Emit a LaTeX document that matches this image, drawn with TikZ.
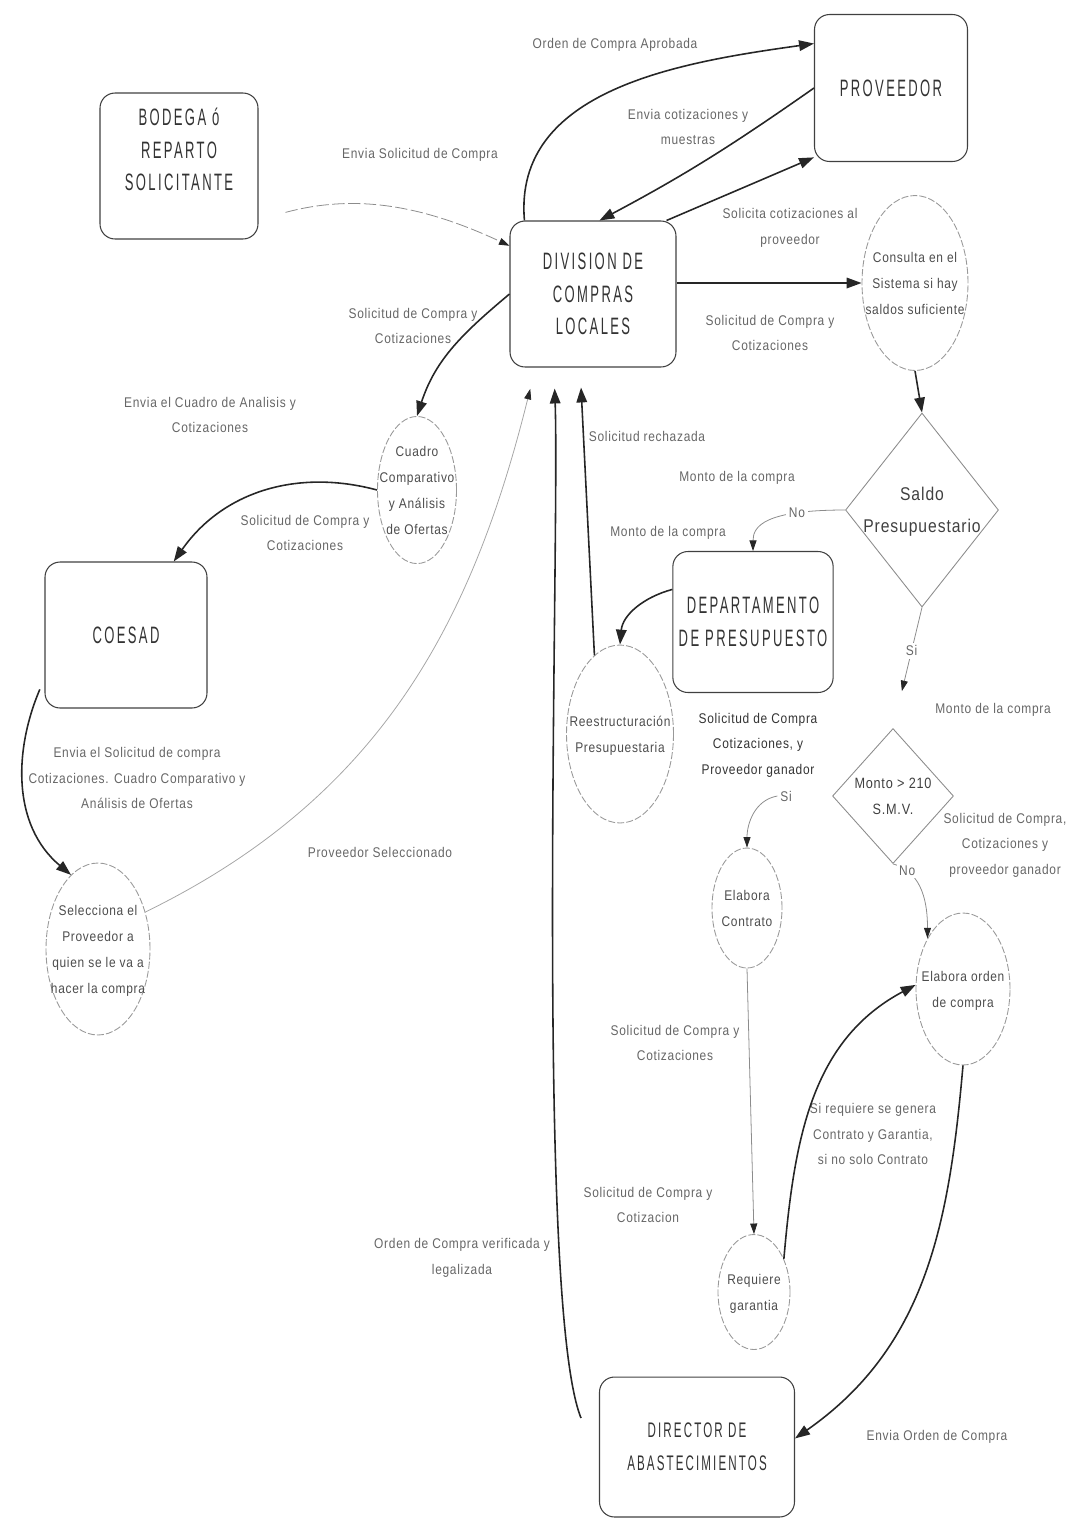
\documentclass[tikz,border=0pt]{standalone}
\usepackage{fontspec}
\setmainfont{Liberation Sans}
\newfontfamily\boxfont[FakeStretch=0.55,LetterSpace=10]{Liberation Sans}
\newfontfamily\labfont[FakeStretch=0.85,LetterSpace=5]{Liberation Sans}
\usetikzlibrary{shapes.geometric,arrows.meta,calc}
\newcommand{\ctr}[1]{\makebox[0pt]{\begin{tabular}{@{}c@{}}#1\end{tabular}}}
\tikzset{
   entity node/.style={rectangle,rounded corners=0.3cm,draw=black!75,line width=0.6pt,
                       font=\boxfont\fontsize{13.5}{18.5}\selectfont,text=black!80,align=center},
   process node/.style={ellipse,draw=black!40,dash pattern=on 4pt off 1.2pt,line width=0.5pt,
                        inner sep=0pt,font=\labfont\fontsize{8}{14.8}\selectfont,text=black!70},
   decision node/.style={diamond,draw=black!45,line width=0.5pt,inner sep=0pt,text=black!75},
   label node/.style={font=\labfont\fontsize{8}{14.5}\selectfont,text=black!60,align=center,inner sep=0pt}
}

\begin{document}
\begin{tikzpicture}[x=0.02cm,y=0.02cm,
                    >={Triangle[length=8.5pt,width=6pt]},
                    flow/.style={->,line width=0.9pt,black!85},
                    thin flow/.style={-{Triangle[length=6pt,width=4pt,color=black!85]},line width=0.45pt,black!45},
                    dash flow/.style={thin flow,dash pattern=on 7pt off 2pt},
                    cond/.style={label node,fill=white,inner sep=1.5pt}]
\useasboundingbox (0,0) rectangle (1077,-1519);
% entities
\node[entity node,minimum width=3.16cm,minimum height=2.92cm] (1) at (179,-166) {BODEGA ó\\REPARTO\\SOLICITANTE\\\mbox{}};
\node[entity node,minimum width=3.06cm,minimum height=2.94cm] (2) at (891,-88) {PROVEEDOR};
\node[entity node,minimum width=3.32cm,minimum height=2.92cm] (3) at (593,-294) {DIVISION DE\\COMPRAS\\LOCALES};
\node[entity node,minimum width=3.2cm,minimum height=2.82cm] (6) at (753,-622) {DEPARTAMENTO\\DE PRESUPUESTO};
\node[entity node,minimum width=3.24cm,minimum height=2.92cm] (10) at (126,-635) {COESAD};
\node[entity node,minimum width=3.9cm,minimum height=2.8cm,font=\boxfont\fontsize{12}{19}\selectfont] (15) at (697,-1447) {DIRECTOR DE\\ABASTECIMIENTOS};
% processes
\node[process node,minimum width=2.12cm,minimum height=3.5cm] (4) at (915,-283) {\ctr{Consulta en el\\Sistema si hay\\saldos suficiente}};
\node[process node,minimum width=2.14cm,minimum height=3.56cm] (7) at (620,-734) {\ctr{Reestructuración\\Presupuestaria}};
\node[process node,minimum width=1.58cm,minimum height=2.9cm] (9) at (417,-490) {\ctr{Cuadro\\Comparativo\\y Análisis\\de Ofertas}};
\node[process node,minimum width=2.08cm,minimum height=3.44cm] (11) at (98,-949) {\ctr{Selecciona el\\Proveedor a\\quien se le va a\\hacer la compra}};
\node[process node,minimum width=1.4cm,minimum height=2.4cm] (12) at (747,-908) {\ctr{Elabora\\Contrato}};
\node[process node,minimum width=1.88cm,minimum height=3.04cm] (13) at (963,-989) {\ctr{Elabora orden\\de compra}};
\node[process node,minimum width=1.44cm,minimum height=2.3cm] (14) at (754,-1292) {\ctr{Requiere\\garantia}};
% decisions
\node[decision node,minimum width=3.06cm,minimum height=3.88cm,font=\labfont\fontsize{10.5}{18}\selectfont] (5) at (922,-510) {\ctr{Saldo\\Presupuestario}};
\node[decision node,minimum width=2.42cm,minimum height=2.7cm,font=\labfont\fontsize{8.5}{15}\selectfont] (8) at (893,-796) {\ctr{Monto > 210\\S.M.V.}};
%
\node[label node] (l1) at (420,-155) {Envia Solicitud de Compra};
\node[label node] (l2) at (615,-45) {Orden de Compra Aprobada};
\node[label node] (l3) at (688,-127) {Envia cotizaciones y\\muestras};
\node[label node] (l4) at (790,-228) {Solicita cotizaciones al\\proveedor};
\node[label node] (l5) at (770,-333) {Solicitud de Compra y\\Cotizaciones};
\node[label node] (l6) at (413,-326) {Solicitud de Compra y\\Cotizaciones};
\node[label node] (l7) at (210,-415) {Envia el Cuadro de Analisis y\\Cotizaciones};
\node[label node] (l8) at (305,-533) {Solicitud de Compra y\\Cotizaciones};
\node[label node] (l9) at (137,-778) {Envia el Solicitud de compra\\Cotizaciones. Cuadro Comparativo y\\Análisis de Ofertas};
\node[label node] (l10) at (380,-852) {Proveedor Seleccionado};
\node[label node] (l11) at (647,-436) {Solicitud rechazada};
\node[label node] (l12) at (737,-478) {Monto de la compra};
\node[label node] (l13) at (668,-533) {Monto de la compra};
\node[label node] (l14) at (993,-710) {Monto de la compra};
\node[label node,text=black!80] (l15) at (758,-745) {Solicitud de Compra\\Cotizaciones, y\\Proveedor ganador};
\node[label node] (l16) at (1005,-845) {Solicitud de Compra,\\Cotizaciones y\\proveedor ganador};
\node[label node] (l17) at (675,-1043) {Solicitud de Compra y\\Cotizaciones};
\node[label node] (l18) at (873,-1134) {Si requiere se genera\\Contrato y Garantia,\\si no solo Contrato};
\node[label node] (l19) at (648,-1205) {Solicitud de Compra y\\Cotizacion};
\node[label node] (l20) at (462,-1258) {Orden de Compra verificada y\\legalizada};
\node[label node] (l21) at (937,-1437) {Envia Orden de Compra};
\node[cond] (s2) at (786,-796) {Si};
%
\path[flow]
  (3.133) edge[out=95,in=188] (2.150)
  (2.west) edge[out=215,in=28] (3.85)
  (3.45) edge (2.222)
  (3.east |- 4) edge (4)
  (4.south) edge (5.north)
  (3.west) edge[out=220,in=72] (9.north)
  (9.west) edge[out=165,in=55] (10.57)
  (10.208) edge[out=247,in=140,shorten <=0.24cm] (11.110)
  (6.158) edge[out=195,in=85] (7.north)
  (7.108) edge[shorten >=0.4cm] (3.-100)
  (15.189) edge[out=112,in=272,looseness=0.4,shorten <=0.96cm,shorten >=0.42cm] (3.-118)
  (14.48) edge[out=85,in=208] (13.175)
  (13.south) edge[out=265,in=35] (15.5)
  ;
\path[dash flow]
  (1.-34) edge[out=15,in=155,shorten <=0.56cm] (3.150)
  ;
\path[thin flow,black!35]
  (11.38) edge[out=26,in=256,shorten >=0.44cm] (3.-128)
  ;
\draw[thin flow] (5.west) .. controls +(-80,0) and +(0,25) .. (6.north) node[cond,pos=.25] (n1) {No};
\path[thin flow]
  (5.south) edge[shorten >=0.76cm] node[cond,pos=.36] (s1) {Si} (8.north)
  (8.south) edge[out=-15,in=90] node[cond,pos=.18] (n2) {No} (13.125)
  (s2.west) edge[out=190,in=90] (12.north)
  (12.south) edge (14.north)
  ;
\end{tikzpicture}
\end{document}
